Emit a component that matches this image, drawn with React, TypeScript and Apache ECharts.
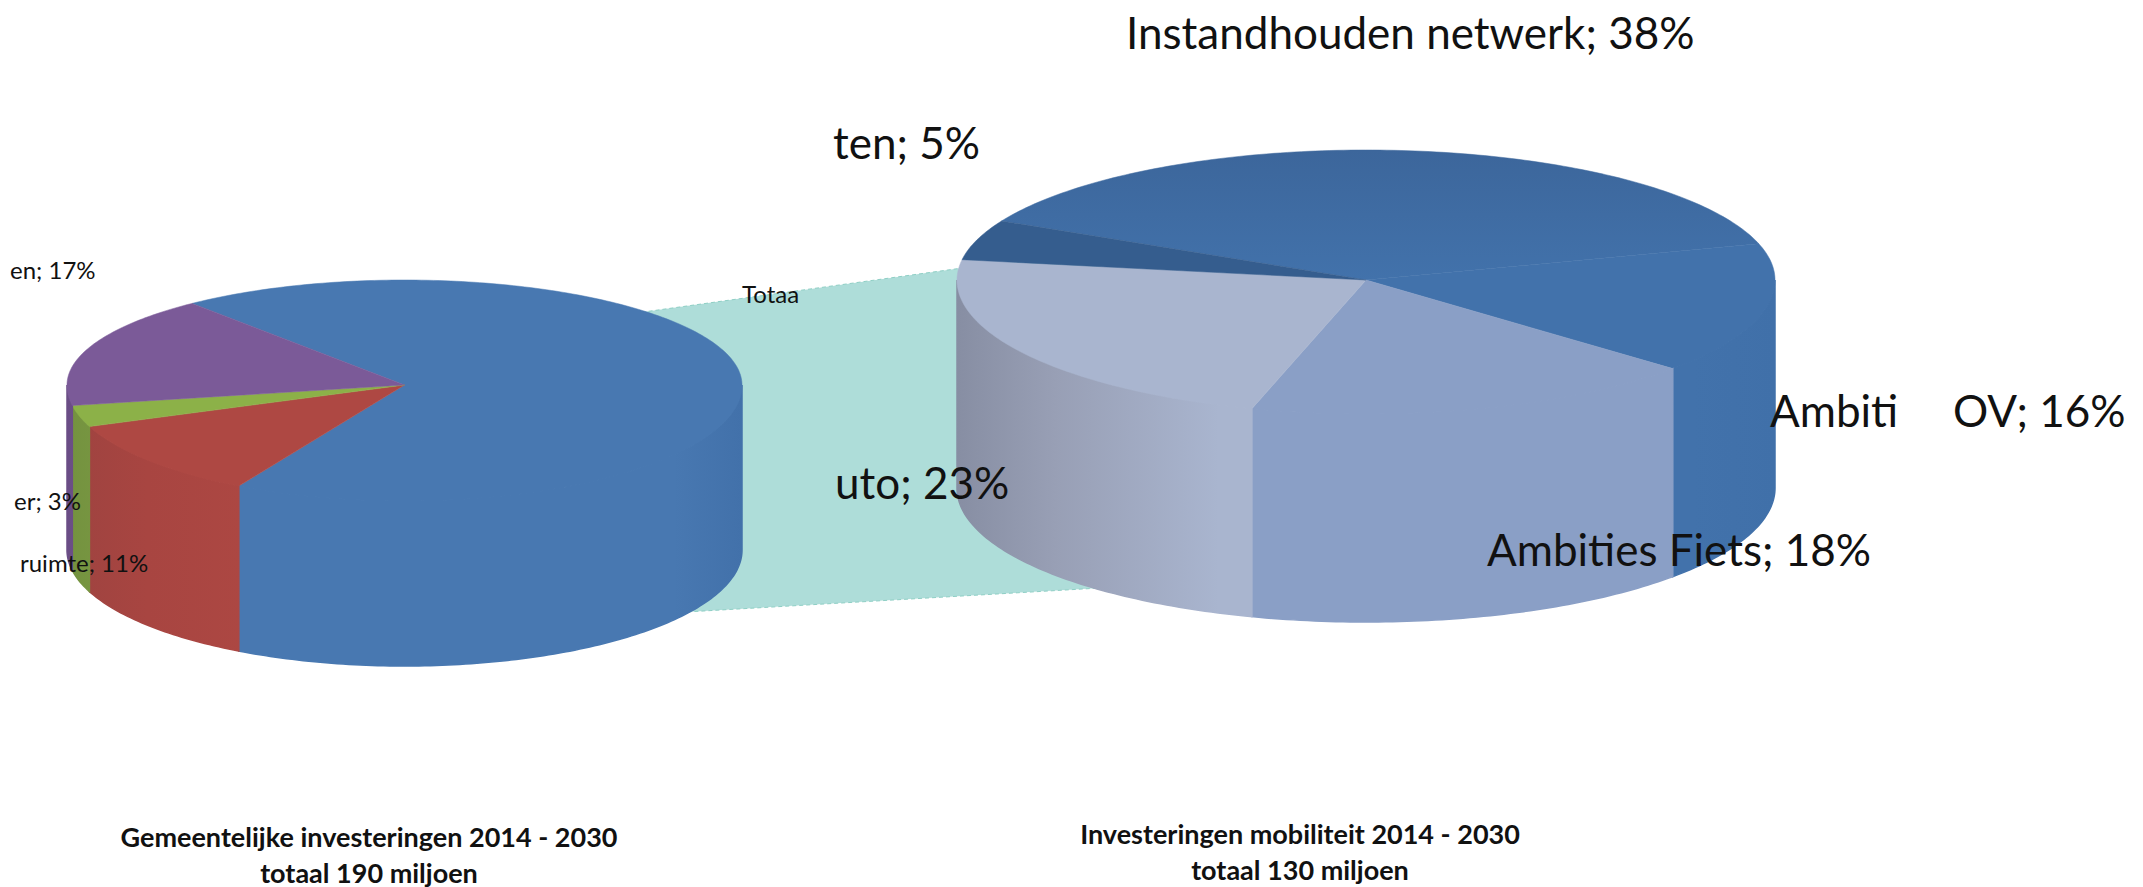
import React, { useEffect, useRef } from "react";
import * as echarts from "echarts";

const gemeenteValues = [69, 11, 3, 17];
const mobiliteitValues = [38, 16, 18, 23, 5];

const labelTexts = [
  "Instandhouden netwerk; 38%",
  "ten; 5%",
  "uto; 23%",
  "Ambiti",
  "OV; 16%",
  "Ambities Fiets; 18%",
  "en; 17%",
  "er; 3%",
  "ruimte; 11%",
  "Totaa",
];
const labelBig = [1, 1, 1, 1, 1, 1, 0, 0, 0, 0];
const labelX = [1126, 833, 835, 1770, 1953, 1487, 10, 14, 20, 742];
const labelY = [32, 142, 482, 410, 410, 549, 269, 500, 562, 293];

const titleTexts = [
  "Gemeentelijke investeringen 2014 - 2030",
  "totaal 190 miljoen",
  "Investeringen mobiliteit 2014 - 2030",
  "totaal 130 miljoen",
];
const titleX = [369, 369, 1300, 1300];
const titleY = [836, 872, 833, 869];

const leftPie = {
  cx: 404.5, cy: 385, rx: 337.5, ryBack: 105, ryFront: 116, depth: 165, start: -39,
  top: ["#4878b1", "#ae4843", "#8cb148", "#7b5a98"],
  topLow: ["#4878b1", "#ae4843", "#8cb148", "#7b5a98"],
  wall: [
    ["#4878b1", "#4878b1", "#4878b1", "#4878b1", "#4271aa"],
    ["#9e4340", "#a84541", "#ae4843", "#ae4843", "#ae4843"],
    ["#74923f", "#7c9c45", "#7c9c45", "#7c9c45", "#7c9c45"],
    ["#6a4d85", "#7b5a98", "#7b5a98", "#7b5a98", "#7b5a98"],
  ],
};
const rightPie = {
  cx: 1366, cy: 280, rx: 409, ryBack: 130, ryFront: 134, depth: 208, start: -63,
  top: ["#3c669b", "#4272ab", "#8a9fc6", "#a9b5cf", "#355d8e"],
  topLow: ["#4272ab", "#4272ab", "#8a9fc6", "#a9b5cf", "#355d8e"],
  wall: [
    ["#3f6a9f", "#3f6a9f", "#3f6a9f", "#3f6a9f", "#3f6a9f"],
    ["#4272ab", "#4272ab", "#4272ab", "#4272ab", "#4070a9"],
    ["#8a9fc6", "#8a9fc6", "#8a9fc6", "#8a9fc6", "#8499bd"],
    ["#878ea3", "#989fb5", "#a9b5cf", "#a9b5cf", "#a9b5cf"],
    ["#355d8e", "#355d8e", "#355d8e", "#355d8e", "#355d8e"],
  ],
};
const wallStops = [0, 0.12, 0.32, 0.9, 1];

const connector = [
  [600, 318],
  [1100, 249],
  [1100, 588],
  [600, 617],
];

type Pie = typeof leftPie;

function pieItem(pie: Pie, total: number) {
  return (params: any, api: any) => {
    const value = api.value(0);
    const before = api.value(1);
    const a = pie.start + (before / total) * 360;
    const b = a + (value / total) * 360;
    const pt = (deg: number, dy = 0) => {
      const r = (deg * Math.PI) / 180;
      const c = Math.cos(r);
      return [pie.cx + pie.rx * Math.sin(r), pie.cy + dy - c * (c > 0 ? pie.ryBack : pie.ryFront)];
    };
    const arc = (p: number, q: number, dy = 0) => {
      const out: number[][] = [];
      const n = Math.max(2, Math.ceil(q - p));
      for (let i = 0; i <= n; i++) out.push(pt(p + ((q - p) * i) / n, dy));
      return out;
    };
    const idx = params.dataIndex;
    const children: any[] = [];
    for (const k of [-1, 0, 1]) {
      const p = Math.max(a, 90 + 360 * k);
      const q = Math.min(b, 270 + 360 * k);
      if (q > p) {
        const colors = pie.wall[idx];
        const fill = new echarts.graphic.LinearGradient(
          pie.cx - pie.rx, 0, pie.cx + pie.rx, 0,
          colors.map((color, i) => ({ offset: wallStops[i], color })),
          true
        );
        children.push({
          type: "polygon",
          shape: { points: [...arc(p, q), ...arc(p, q, pie.depth).reverse()] },
          style: { fill, stroke: fill, lineWidth: 1.5 },
        });
      }
    }
    const topFill = new echarts.graphic.LinearGradient(
      0, pie.cy - pie.ryBack, 0, pie.cy,
      [
        { offset: 0, color: pie.top[idx] },
        { offset: 1, color: pie.topLow[idx] },
      ],
      true
    );
    children.push({
      type: "polygon",
      shape: { points: [[pie.cx, pie.cy], ...arc(a, b)] },
      style: { fill: topFill, stroke: topFill, lineWidth: 0.5 },
    });
    return { type: "group", children };
  };
}

function withCumulative(values: number[]) {
  let sum = 0;
  return values.map((v) => {
    const row = [v, sum];
    sum += v;
    return row;
  });
}

const sumOf = (values: number[]) => values.reduce((s, v) => s + v, 0);

export default function App() {
  const ref = useRef<HTMLDivElement>(null);
  useEffect(() => {
    document.body.style.margin = "0";
    document.body.style.background = "#ffffff";
    const chart = echarts.init(ref.current!, undefined, { renderer: "svg" });
    chart.setOption({
      animation: false,
      backgroundColor: "#ffffff",
      tooltip: { show: false },
      series: [
        {
          type: "custom",
          name: "Verbinding",
          coordinateSystem: "none",
          silent: true,
          z: 1,
          data: [0],
          renderItem: () => ({
            type: "polygon",
            shape: { points: connector },
            style: { fill: "#aeddd9", stroke: "#8fcfc5", lineWidth: 1, lineDash: [4, 3] },
          }),
        },
        {
          type: "custom",
          name: "Gemeentelijke investeringen",
          coordinateSystem: "none",
          silent: true,
          z: 2,
          data: withCumulative(gemeenteValues),
          renderItem: pieItem(leftPie, sumOf(gemeenteValues)),
        },
        {
          type: "custom",
          name: "Investeringen mobiliteit",
          coordinateSystem: "none",
          silent: true,
          z: 2,
          data: withCumulative(mobiliteitValues),
          renderItem: pieItem(rightPie as Pie, sumOf(mobiliteitValues)),
        },
        {
          type: "custom",
          name: "Labels",
          coordinateSystem: "none",
          silent: true,
          z: 3,
          data: labelTexts.map((_, i) => i),
          renderItem: (params: any) => {
            const i = params.dataIndex;
            const big = labelBig[i] === 1;
            return {
              type: "text",
              x: labelX[i],
              y: labelY[i],
              style: {
                text: labelTexts[i],
                fill: "#111111",
                fontFamily: "Lato",
                fontSize: big ? 44 : 24,
                align: "left",
                verticalAlign: "middle",
              },
            };
          },
        },
        {
          type: "custom",
          name: "Titels",
          coordinateSystem: "none",
          silent: true,
          z: 3,
          data: titleTexts.map((_, i) => i),
          renderItem: (params: any) => {
            const i = params.dataIndex;
            return {
              type: "text",
              x: titleX[i],
              y: titleY[i],
              style: {
                text: titleTexts[i],
                fill: "#111111",
                fontFamily: "Lato",
                fontWeight: "bold",
                fontSize: 27,
                align: "center",
                verticalAlign: "middle",
              },
            };
          },
        },
      ],
    });
    return () => chart.dispose();
  }, []);
  return <div ref={ref} style={{ width: 2143, height: 887 }} />;
}
